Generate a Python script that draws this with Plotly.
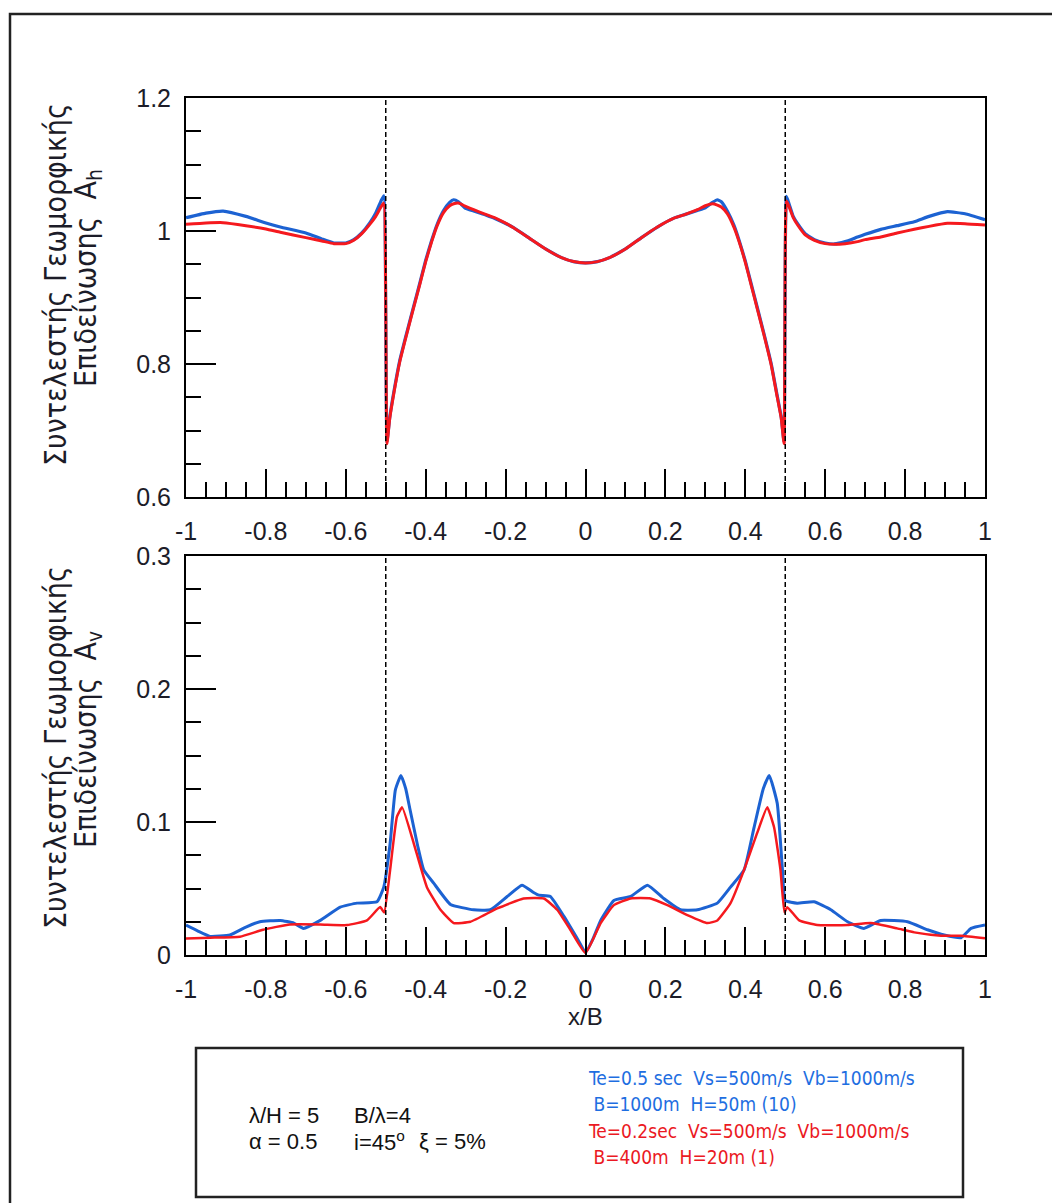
import plotly.graph_objects as go

# ---------------- data ----------------
x_top = [-1.0, -0.95, -0.907, -0.85, -0.8, -0.764, -0.7, -0.66, -0.63, -0.6, -0.58, -0.56, -0.54,
         -0.525, -0.512, -0.505, -0.497, -0.49, -0.48, -0.465, -0.447, -0.43, -0.415, -0.4, -0.385,
         -0.372, -0.355, -0.34, -0.33, -0.318, -0.3, -0.28, -0.25, -0.22, -0.18, -0.14, -0.1, -0.06,
         -0.03, 0.0,
         0.03, 0.06, 0.1, 0.14, 0.18, 0.22, 0.25, 0.28, 0.3, 0.318, 0.33, 0.34, 0.355, 0.372, 0.385,
         0.4, 0.415, 0.43, 0.447, 0.465, 0.48, 0.49, 0.497, 0.503, 0.51, 0.52, 0.531, 0.55, 0.573,
         0.6, 0.623, 0.65, 0.681, 0.7, 0.739, 0.78, 0.823, 0.86, 0.906, 0.95, 1.0]

ah_blue = [1.020, 1.027, 1.030, 1.022, 1.012, 1.006, 0.997, 0.988, 0.982, 0.982, 0.987, 0.997, 1.012,
           1.027, 1.045, 1.053, 0.683, 0.720, 0.757, 0.805, 0.848, 0.887, 0.921, 0.956, 0.986,
           1.009, 1.031, 1.043, 1.047, 1.044, 1.034, 1.030, 1.024, 1.017, 1.005, 0.989, 0.973, 0.960,
           0.954, 0.952,
           0.954, 0.960, 0.973, 0.990, 1.006, 1.019, 1.025, 1.031, 1.035, 1.043, 1.047, 1.044, 1.030,
           1.008, 0.985, 0.955, 0.920, 0.885, 0.845, 0.800, 0.752, 0.720, 0.683, 1.052, 1.040, 1.022,
           1.011, 0.996, 0.987, 0.982, 0.9805, 0.984, 0.991, 0.995, 1.0025, 1.008, 1.014, 1.022, 1.029,
           1.026, 1.017]

ah_red = [1.010, 1.012, 1.0125, 1.008, 1.003, 0.998, 0.990, 0.985, 0.981, 0.981, 0.986, 0.996, 1.010,
          1.022, 1.036, 1.042, 0.680, 0.718, 0.755, 0.803, 0.846, 0.885, 0.919, 0.954, 0.984,
          1.007, 1.028, 1.038, 1.041, 1.042, 1.037, 1.032, 1.025, 1.018, 1.005, 0.989, 0.973, 0.960,
          0.954, 0.952,
          0.954, 0.960, 0.973, 0.990, 1.006, 1.019, 1.025, 1.032, 1.038, 1.041, 1.039, 1.036, 1.026,
          1.005, 0.983, 0.953, 0.918, 0.883, 0.843, 0.798, 0.750, 0.718, 0.680, 1.045, 1.036, 1.020,
          1.009, 0.994, 0.986, 0.981, 0.980, 0.981, 0.984, 0.987, 0.991, 0.997, 1.0025, 1.007, 1.0116,
          1.011, 1.009]

x_av_blue = [-1.0, -0.97, -0.94, -0.89, -0.85, -0.815, -0.764, -0.73, -0.706, -0.664, -0.614, -0.572,
             -0.522, -0.505, -0.489, -0.476, -0.462, -0.45, -0.439, -0.42, -0.405, -0.38, -0.338, -0.28,
             -0.238, -0.196, -0.159, -0.13, -0.117, -0.088, -0.054, -0.02, 0.0,
             0.02, 0.038, 0.071, 0.113, 0.155, 0.196, 0.238, 0.28, 0.33, 0.363, 0.397, 0.422, 0.445,
             0.46, 0.48, 0.493, 0.5, 0.53, 0.572, 0.614, 0.656, 0.697, 0.739, 0.806, 0.856, 0.898,
             0.94, 0.965, 1.0]
av_blue = [0.0225, 0.018, 0.014, 0.015, 0.021, 0.025, 0.026, 0.024, 0.020, 0.026, 0.036, 0.039,
           0.040, 0.051, 0.084, 0.124, 0.135, 0.125, 0.109, 0.082, 0.064, 0.054, 0.038, 0.034,
           0.034, 0.044, 0.0525, 0.047, 0.045, 0.044, 0.029, 0.012, 0.002,
           0.013, 0.026, 0.041, 0.044, 0.0525, 0.0425, 0.034, 0.034, 0.039, 0.051, 0.064, 0.096, 0.125,
           0.135, 0.114, 0.064, 0.041, 0.039, 0.040, 0.034, 0.025, 0.020, 0.026, 0.025, 0.019, 0.015,
           0.013, 0.020, 0.0225]

x_av_red = [-1.0, -0.94, -0.865, -0.807, -0.74, -0.664, -0.597, -0.547, -0.514, -0.504, -0.489, -0.472,
            -0.459, -0.43, -0.397, -0.363, -0.33, -0.288, -0.221, -0.155, -0.104, -0.071, -0.038, 0.0,
            0.038, 0.071, 0.113, 0.163, 0.205, 0.255, 0.305, 0.33, 0.363, 0.397, 0.43, 0.455, 0.472,
            0.488, 0.498, 0.505, 0.535, 0.58, 0.656, 0.714, 0.78, 0.823, 0.89, 0.94, 1.0]
av_red = [0.0125, 0.013, 0.0138, 0.019, 0.023, 0.023, 0.0225, 0.026, 0.036, 0.032, 0.064, 0.104,
          0.111, 0.084, 0.051, 0.034, 0.024, 0.025, 0.035, 0.0425, 0.0425, 0.034, 0.019, 0.0015,
          0.024, 0.0375, 0.0425, 0.0425, 0.0375, 0.030, 0.024, 0.026, 0.039, 0.064, 0.092, 0.111, 0.096,
          0.064, 0.032, 0.036, 0.026, 0.0225, 0.0225, 0.024, 0.020, 0.017, 0.0145, 0.0145, 0.0125]

x_tickvals = [-1, -0.8, -0.6, -0.4, -0.2, 0, 0.2, 0.4, 0.6, 0.8, 1]
x_ticktext = ["-1", "-0.8", "-0.6", "-0.4", "-0.2", "0", "0.2", "0.4", "0.6", "0.8", "1"]
ah_tickvals = [0.6, 0.8, 1.0, 1.2]
ah_ticktext = ["0.6", "0.8", "1", "1.2"]
av_tickvals = [0, 0.1, 0.2, 0.3]
av_ticktext = ["0", "0.1", "0.2", "0.3"]
boundaries = [-0.5, 0.5]

title_line1 = "Συντελεστής Γεωμορφικής"
title_top_line2 = "Επιδείνωσης\u00a0\u00a0A<sub>h</sub>"
title_bot_line2 = "Επιδείνωσης\u00a0\u00a0A<sub>v</sub>"
legend_left_row1 = ["λ/H = 5", "B/λ=4"]
legend_left_row2 = ["α = 0.5", "i=45<sup>o</sup>", "ξ = 5%"]
legend_blue = ["Te=0.5 sec\u00a0\u00a0Vs=500m/s\u00a0\u00a0Vb=1000m/s", "\u00a0B=1000m\u00a0\u00a0H=50m (10)"]
legend_red = ["Te=0.2sec\u00a0\u00a0Vs=500m/s\u00a0\u00a0Vb=1000m/s", "\u00a0B=400m\u00a0\u00a0H=20m (1)"]

# ---------------- geometry ----------------
W, H = 1052, 1203
L, R, T, B = 186, 985, 98, 955  # plot area in px
def px_x(p):
    return (p - L) / (R - L)
def px_y(p):
    return (B - p) / (B - T)

BLUE = "rgb(28,98,210)"
RED = "rgb(245,25,30)"
TXT = "#1c1c28"

fig = go.Figure()
fig.add_trace(go.Scatter(x=x_top, y=ah_blue, mode="lines", xaxis="x", yaxis="y",
                         line=dict(color=BLUE, width=3.2, shape="spline", smoothing=0.4), showlegend=False))
fig.add_trace(go.Scatter(x=x_top, y=ah_red, mode="lines", xaxis="x", yaxis="y",
                         line=dict(color=RED, width=3.0, shape="spline", smoothing=0.4), showlegend=False))
fig.add_trace(go.Scatter(x=x_av_blue, y=av_blue, mode="lines", xaxis="x2", yaxis="y2",
                         line=dict(color=BLUE, width=3.0, shape="spline", smoothing=0.4), showlegend=False))
fig.add_trace(go.Scatter(x=x_av_red, y=av_red, mode="lines", xaxis="x2", yaxis="y2",
                         line=dict(color=RED, width=2.5, shape="spline", smoothing=0.4), showlegend=False))

tickfont = dict(family="Liberation Sans, Arial, sans-serif", size=25, color=TXT)
common_x = dict(range=[-1, 1], tickmode="array", tickvals=x_tickvals, ticktext=x_ticktext,
                ticks="inside", ticklen=28, tickwidth=1.5, tickcolor="black",
                minor=dict(ticks="inside", ticklen=15, tickwidth=1.5, tickcolor="black", dtick=0.05, tick0=0,
                           showgrid=False),
                showline=True, linecolor="black", linewidth=2, mirror=True,
                showgrid=False, zeroline=False, tickfont=tickfont, ticklabelstandoff=11)
common_y = dict(ticks="inside", ticklen=30, tickwidth=1.5, tickcolor="black",
                showline=True, linecolor="black", linewidth=2, mirror=True,
                showgrid=False, zeroline=False, tickfont=tickfont, ticklabelstandoff=8, tickmode="array")

y_top_bottom = px_y(497)
y_bot_top = px_y(556)

fig.update_layout(
    width=W, height=H,
    margin=dict(l=L, r=W - R, t=T, b=H - B, pad=0),
    paper_bgcolor="white", plot_bgcolor="white",
    xaxis=dict(domain=[0, 1], anchor="y", **common_x),
    yaxis=dict(domain=[y_top_bottom, 1], anchor="x", range=[0.6, 1.2], tickvals=ah_tickvals,
               ticktext=ah_ticktext,
               minor=dict(ticks="inside", ticklen=15, tickwidth=1.5, tickcolor="black", dtick=0.05, tick0=0,
                          showgrid=False), **common_y),
    xaxis2=dict(domain=[0, 1], anchor="y2", **common_x),
    yaxis2=dict(domain=[0, y_bot_top], anchor="x2", range=[0, 0.3], tickvals=av_tickvals,
                ticktext=av_ticktext,
                minor=dict(ticks="inside", ticklen=15, tickwidth=1.5, tickcolor="black", dtick=0.025, tick0=0,
                           showgrid=False), **common_y),
)

shapes = []
for xv in boundaries:
    shapes.append(dict(type="line", xref="x", yref="y domain", x0=xv, x1=xv, y0=0, y1=1,
                       line=dict(color="black", width=1.5, dash="5px,3px"), layer="above"))
    shapes.append(dict(type="line", xref="x2", yref="y2 domain", x0=xv, x1=xv, y0=0, y1=1,
                       line=dict(color="black", width=1.5, dash="5px,3px"), layer="above"))
# outer frame
shapes.append(dict(type="rect", xref="paper", yref="paper", x0=px_x(10), x1=px_x(1070), y0=px_y(1220),
                   y1=px_y(14), line=dict(color="#222", width=2.5), layer="below"))
# legend box
shapes.append(dict(type="rect", xref="paper", yref="paper", x0=px_x(196), x1=px_x(963), y0=px_y(1197),
                   y1=px_y(1048), line=dict(color="#222", width=2.5), layer="above"))
fig.update_layout(shapes=shapes)

title_font = dict(family="Liberation Sans Narrow, DejaVu Sans Condensed, Arial Narrow, sans-serif", size=30,
                  color=TXT)
ann = []
ann.append(dict(text=title_line1, x=px_x(55), y=px_y(285), xref="paper", yref="paper", textangle=-90,
                showarrow=False, font=title_font, xanchor="center", yanchor="middle"))
ann.append(dict(text=title_top_line2, x=px_x(87), y=px_y(278), xref="paper", yref="paper", textangle=-90,
                showarrow=False, font=title_font, xanchor="center", yanchor="middle"))
ann.append(dict(text=title_line1, x=px_x(55), y=px_y(748), xref="paper", yref="paper", textangle=-90,
                showarrow=False, font=title_font, xanchor="center", yanchor="middle"))
ann.append(dict(text=title_bot_line2, x=px_x(87), y=px_y(740), xref="paper", yref="paper", textangle=-90,
                showarrow=False, font=title_font, xanchor="center", yanchor="middle"))
ann.append(dict(text="x/B", x=px_x(585), y=px_y(1016), xref="paper", yref="paper", showarrow=False,
                font=dict(family="Liberation Sans, Arial, sans-serif", size=24, color=TXT),
                xanchor="center", yanchor="middle"))

lfont = dict(family="Liberation Sans, Arial, sans-serif", size=22, color="#111")
for txt, xx in zip(legend_left_row1, [247, 352]):
    ann.append(dict(text=txt, x=px_x(xx), y=px_y(1115), xref="paper", yref="paper", showarrow=False,
                    font=lfont, xanchor="left", yanchor="middle"))
for txt, xx in zip(legend_left_row2, [247, 352, 417]):
    ann.append(dict(text=txt, x=px_x(xx), y=px_y(1141), xref="paper", yref="paper", showarrow=False,
                    font=lfont, xanchor="left", yanchor="middle"))
nfont_b = dict(family="Liberation Sans Narrow, DejaVu Sans Condensed, Arial Narrow, sans-serif", size=19,
               color="rgb(30,110,225)")
nfont_r = dict(family="Liberation Sans Narrow, DejaVu Sans Condensed, Arial Narrow, sans-serif", size=19,
               color="rgb(235,25,35)")
for txt, yy in zip(legend_blue, [1078, 1104]):
    ann.append(dict(text=txt, x=px_x(586), y=px_y(yy), xref="paper", yref="paper", showarrow=False,
                    font=nfont_b, xanchor="left", yanchor="middle"))
for txt, yy in zip(legend_red, [1131, 1157]):
    ann.append(dict(text=txt, x=px_x(586), y=px_y(yy), xref="paper", yref="paper", showarrow=False,
                    font=nfont_r, xanchor="left", yanchor="middle"))
fig.update_layout(annotations=ann)

fig.write_html("out.html")
